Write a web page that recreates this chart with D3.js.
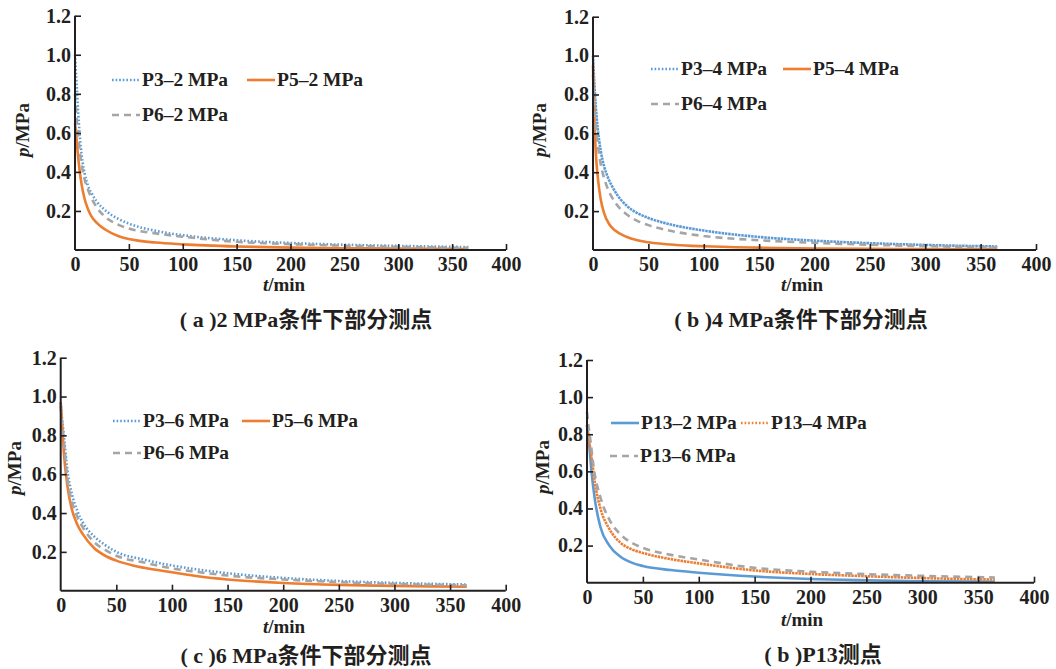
<!DOCTYPE html>
<html><head><meta charset="utf-8">
<script src="https://cdn.jsdelivr.net/npm/d3@7"></script>
<style>
body{margin:0;background:#fff;}
svg{display:block;}
text{font-family:"Liberation Serif","Noto Sans CJK SC",serif;font-weight:bold;fill:#231f20;}
</style></head><body>
<svg id="c" width="1056" height="669"></svg>
<script>
// ---- data (t in min, p in MPa) ----
const xTicks = [0,50,100,150,200,250,300,350,400];
const yTicks = [0.2,0.4,0.6,0.8,1.0,1.2];

// panel (a) 2 MPa
const tA_P3 = [0,1,2,3,5,7,9,12,16,20,30,40,50,75,100,150,200,250,300,365];
const pA_P3 = [1.0,0.9,0.8,0.7,0.55,0.45,0.39,0.33,0.285,0.25,0.195,0.16,0.135,0.098,0.076,0.05,0.036,0.027,0.021,0.015];
const tA_P5 = [0,1,2,4,6,9,12,15,20,28,40,50,75,100,150,200,250,300,365];
const pA_P5 = [0.65,0.6,0.53,0.42,0.34,0.26,0.21,0.175,0.14,0.105,0.072,0.056,0.038,0.029,0.018,0.012,0.009,0.007,0.005];
const tA_P6 = [0,1,2,3,5,7,9,12,15,20,28,40,50,75,100,150,200,250,300,365];
const pA_P6 = [0.8,0.72,0.64,0.58,0.48,0.41,0.36,0.31,0.27,0.22,0.17,0.13,0.11,0.085,0.068,0.042,0.03,0.022,0.016,0.011];

// panel (b) 4 MPa
const tB_P3 = [0,1,2,4,7,10,13,20,30,40,50,75,100,150,200,250,300,365];
const pB_P3 = [1.0,0.88,0.78,0.64,0.51,0.43,0.38,0.3,0.23,0.19,0.165,0.125,0.1,0.067,0.048,0.035,0.026,0.018];
const tB_P5 = [0,1,2,3,5,7,10,15,20,30,40,50,75,100,150,200,250,300,365];
const pB_P5 = [0.95,0.72,0.56,0.46,0.34,0.26,0.19,0.13,0.1,0.068,0.05,0.04,0.026,0.019,0.012,0.008,0.006,0.005,0.004];
const tB_P6 = [0,1,2,4,7,10,13,20,30,40,50,75,100,150,200,250,300,365];
const pB_P6 = [0.9,0.78,0.68,0.56,0.44,0.37,0.32,0.245,0.185,0.15,0.128,0.093,0.072,0.05,0.037,0.027,0.02,0.014];

// panel (c) 6 MPa
const tC_P3 = [0,1,3,6,10,15,20,30,40,50,75,100,125,150,200,250,300,365];
const pC_P3 = [0.97,0.9,0.79,0.62,0.5,0.41,0.35,0.28,0.235,0.2,0.16,0.13,0.108,0.09,0.066,0.05,0.04,0.032];
const tC_P5 = [0,1,3,6,10,15,20,30,40,50,65,75,100,125,150,200,250,300,365];
const pC_P5 = [0.97,0.88,0.7,0.54,0.42,0.34,0.29,0.22,0.18,0.155,0.13,0.118,0.095,0.073,0.058,0.04,0.03,0.025,0.02];
const tC_P6 = [0,1,3,6,10,15,20,30,40,50,75,100,125,150,200,250,300,365];
const pC_P6 = [0.95,0.88,0.76,0.58,0.46,0.38,0.325,0.25,0.21,0.18,0.145,0.115,0.095,0.078,0.058,0.044,0.035,0.028];

// panel (d) P13
const tD_2 = [0,1,2,4,7,12,20,30,40,50,75,100,150,200,250,300,365];
const pD_2 = [0.85,0.8,0.74,0.6,0.45,0.3,0.2,0.14,0.108,0.09,0.068,0.054,0.033,0.02,0.013,0.008,0.005];
const tD_4 = [0,1,2,4,7,12,20,30,40,50,75,100,150,200,250,300,365];
const pD_4 = [0.85,0.8,0.76,0.68,0.54,0.4,0.29,0.215,0.18,0.16,0.127,0.104,0.066,0.047,0.035,0.025,0.017];
const tD_6 = [0,1,3,6,12,20,30,40,50,75,100,150,200,250,300,365];
const pD_6 = [0.92,0.86,0.77,0.62,0.46,0.34,0.26,0.215,0.188,0.15,0.125,0.08,0.059,0.046,0.037,0.028];

const legA = ["P3–2 MPa","P5–2 MPa","P6–2 MPa"];
const legB = ["P3–4 MPa","P5–4 MPa","P6–4 MPa"];
const legC = ["P3–6 MPa","P5–6 MPa","P6–6 MPa"];
const legD = ["P13–2 MPa","P13–4 MPa","P13–6 MPa"];
const captions = ["( a )2 MPa条件下部分测点","( b )4 MPa条件下部分测点","( c )6 MPa条件下部分测点","( b )P13测点"];

// ---- styles ----
const BLUE="#5b9bd5", ORANGE="#ed7d31", GRAY="#a5a5a5";
const DOT="1.6,2", DASH="7,5", SOLID=null;

const panels = [
 {x0:75,x1:506,yT:15.7,yB:250, cap:[306,327], xl:[284,291], yl:[23,130],
  series:[[tA_P3,pA_P3,BLUE,DOT,DOT],[tA_P5,pA_P5,ORANGE,SOLID,SOLID],[tA_P6,pA_P6,GRAY,DASH,DASH]],
  leg:legA, legPos:[[112,80],[247,80],[112,115]]},
 {x0:593,x1:1036,yT:16.7,yB:250, cap:[801,327], xl:[802,291], yl:[540,130],
  series:[[tB_P3,pB_P3,BLUE,"2.5,0.8",DOT],[tB_P5,pB_P5,ORANGE,SOLID,SOLID],[tB_P6,pB_P6,GRAY,DASH,DASH]],
  leg:legB, legPos:[[651,69],[783,69],[651,104]]},
 {x0:60.7,x1:505.7,yT:357.7,yB:590.7, cap:[306,663], xl:[284,633], yl:[15,468],
  series:[[tC_P3,pC_P3,BLUE,DOT,DOT],[tC_P5,pC_P5,ORANGE,SOLID,SOLID],[tC_P6,pC_P6,GRAY,DASH,DASH]],
  leg:legC, legPos:[[113,421],[242,421],[113,453]]},
 {x0:587,x1:1034,yT:360,yB:582.7, cap:[823,662], xl:[802,626], yl:[543,467],
  series:[[tD_2,pD_2,BLUE,SOLID,SOLID],[tD_4,pD_4,ORANGE,"2.5,0.8",DOT],[tD_6,pD_6,GRAY,DASH,DASH]],
  leg:legD, legPos:[[611,423],[741,423],[610,456]]}
];

const svg = d3.select("#c");
const FS = 20;

panels.forEach((P,i)=>{
  const x = d3.scaleLinear().domain([0,400]).range([P.x0,P.x1]);
  const y = d3.scaleLinear().domain([0,1.2]).range([P.yB,P.yT]);
  const g = svg.append("g");

  // curves
  const line = d3.line().x(d=>x(d[0])).y(d=>y(d[1])).curve(d3.curveMonotoneX);
  P.series.forEach(s=>{
    const pts = s[0].map((t,k)=>[t,s[1][k]]);
    g.append("path").attr("d",line(pts)).attr("fill","none")
      .attr("stroke",s[2]).attr("stroke-width",2.6)
      .attr("stroke-dasharray",s[3]);
  });

  // axes
  const xa = d3.axisBottom(x).tickValues(xTicks).tickSize(-6).tickPadding(10).tickFormat(d3.format("d"));
  const gx = g.append("g").attr("transform",`translate(0,${P.yB})`).call(xa);
  gx.select(".domain").attr("stroke","#231f20").attr("stroke-width",2).attr("d",`M${P.x0},0H${P.x1}`);
  gx.selectAll(".tick line").attr("stroke","#231f20").attr("stroke-width",1.6);
  gx.selectAll(".tick").filter(d=>d===0).select("line").remove();
  gx.selectAll("text").attr("font-size",FS).attr("fill","#231f20").attr("dy","0.71em")
    .attr("y",7);

  const ya = d3.axisLeft(y).tickValues(yTicks).tickSize(-6).tickPadding(10).tickFormat(d3.format(".1f"));
  const gy = g.append("g").attr("transform",`translate(${P.x0},0)`).call(ya);
  gy.select(".domain").attr("stroke","#231f20").attr("stroke-width",2).attr("d",`M0,${P.yT}V${P.yB}`);
  gy.selectAll(".tick line").attr("stroke","#231f20").attr("stroke-width",1.6);
  gy.selectAll("text").attr("font-size",FS).attr("fill","#231f20").attr("x",-4);

  // axis titles
  const xt = g.append("text").attr("x",P.xl[0]).attr("y",P.xl[1]).attr("text-anchor","middle").attr("font-size",19);
  xt.append("tspan").attr("font-style","italic").text("t");
  xt.append("tspan").text("/min");
  const yt = g.append("text").attr("transform",`translate(${P.yl[0]+6},${P.yl[1]}) rotate(-90)`)
    .attr("text-anchor","middle").attr("font-size",19);
  yt.append("tspan").attr("font-style","italic").text("p");
  yt.append("tspan").text("/MPa");

  // legend
  P.leg.forEach((name,k)=>{
    const [lx,ly] = P.legPos[k];
    const s = P.series[k];
    g.append("line").attr("x1",lx).attr("x2",lx+28).attr("y1",ly).attr("y2",ly)
      .attr("stroke",s[2]).attr("stroke-width",2.6).attr("stroke-dasharray",s[4]);
    g.append("text").attr("x",lx+30).attr("y",ly).attr("dy","0.33em").attr("font-size",19.5).text(name);
  });

  // caption
  g.append("text").attr("x",P.cap[0]).attr("y",P.cap[1]).attr("text-anchor","middle")
    .attr("font-size",22).text(captions[i]);
});
</script>
</body></html>
